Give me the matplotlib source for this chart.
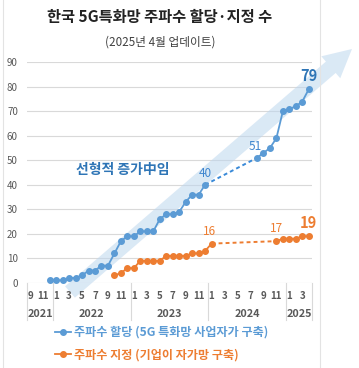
import numpy as np
import matplotlib
matplotlib.use('Agg')
import matplotlib.pyplot as plt
from matplotlib.patches import FancyArrow, Rectangle
from matplotlib.transforms import IdentityTransform, blended_transform_factory
from matplotlib.lines import Line2D

plt.rcParams['font.family'] = ['Noto Sans CJK KR', 'DejaVu Sans']

# Monthly categories, Sep 2021 .. Apr 2025
years = ['2021', '2022', '2023', '2024', '2025']
year_sizes = [4, 12, 12, 12, 4]
months = [9, 10, 11, 12] + list(range(1, 13)) * 3 + [1, 2, 3, 4]

# 주파수 할당 (blue) / 주파수 지정 (orange), None = no data for that month
allocated = [None, None, None, 1, 1, 1, 2, 2, 3, 5, 5, 7, 7, 12, 17, 19, 19,
             21, 21, 21, 26, 28, 28, 29, 33, 36, 36, 40,
             None, None, None, None, None, None, None,
             51, 53, 55, 59, 70, 71, 72, 74, 79]
designated = [None] * 13 + [3, 4, 6, 6, 9, 9, 9, 9, 11, 11, 11, 11, 12, 12, 13, 16] \
             + [None] * 9 + [17, 18, 18, 18, 19, 19]

label_alloc = '주파수 할당 (5G 특화망 사업자가 구축)'
label_desig = '주파수 지정 (기업이 자가망 구축)'

c_blue = '#5B9BD5'
c_blue_dark = '#2E75B6'
c_orange = '#ED7D31'
c_gray = '#595959'

W, H = 359, 368
fig = plt.figure(figsize=(W / 100, H / 100), dpi=100)
ax = fig.add_axes([27 / W, 1 - 282.8 / H, 285 / W, 220.5 / H])

x = np.arange(len(months))
ax.set_xlim(-0.5, len(months) - 0.5)
ax.set_ylim(0, 90)
ax.set_yticks(range(0, 91, 10))
ax.set_xticks([])
ax.tick_params(axis='y', length=0, pad=6.5, labelsize=7, labelcolor=c_gray)
ax.yaxis.grid(True, color='#D9D9D9', lw=0.8)
ax.set_axisbelow(True)
for s in ax.spines.values():
    s.set_visible(False)


def draw_series(vals, color, dash_color):
    y = np.array([np.nan if v is None else v for v in vals], float)
    ax.plot(x, y, color=color, lw=1.3, marker='o', ms=4, zorder=4)
    # dashed bridge over the missing months
    ok = ~np.isnan(y)
    for i in range(len(y) - 1):
        if ok[i] and not ok[i + 1]:
            j = i + 1
            while j < len(y) and not ok[j]:
                j += 1
            if j < len(y):
                ax.plot([x[i], x[j]], [y[i], y[j]], color=dash_color, lw=1.4,
                        dashes=(2, 1.6), zorder=3)
    return y


yb = draw_series(allocated, c_blue, '#3A8AD8')
yo = draw_series(designated, c_orange, c_orange)

# big trend arrow (pixel coords)
arrow = FancyArrow(70, H - 292, 282, 243, width=15, head_width=29, head_length=28,
                   length_includes_head=True, transform=IdentityTransform(),
                   facecolor='#BDD7EE', edgecolor='none', alpha=0.55, zorder=2,
                   clip_on=False)
ax.add_patch(arrow)

ax.text(14.35, 46, '선형적 증가中임', color=c_blue_dark, fontsize=10,
        fontweight='bold', ha='center', va='center', zorder=5)


def point_label(i, y, color, size=8.5, weight='normal', dx=0, dy=11.5):
    ax.annotate(f'{int(y[i])}', (x[i], y[i]), xytext=(dx * 0.72, dy * 0.72),
                textcoords='offset points', ha='center', va='center',
                color=color, fontsize=size, fontweight=weight, zorder=5)


point_label(27, yb, '#3F86CF', dx=0.5)
point_label(35, yb, '#3F86CF', dx=-1.4)
point_label(43, yb, c_blue_dark, size=10.5, weight='bold', dy=13.5)
point_label(28, yo, c_orange, dx=-2.5, dy=12)
point_label(38, yo, c_orange, dy=12.5)
point_label(43, yo, c_orange, size=10.5, weight='bold', dy=13.5)

# two-level category axis
trans = blended_transform_factory(ax.transData, ax.transAxes)
for i, m in enumerate(months):
    if m % 2 == 1:
        ax.text(i, -0.06, str(m), transform=trans, ha='center', va='center',
                fontsize=7, fontweight='bold', color=c_gray)
start = 0
edges = [-0.5]
for yr, n in zip(years, year_sizes):
    ax.text(start + (n - 1) / 2, -0.141, yr, transform=trans, ha='center',
            va='center', fontsize=7.8, fontweight='bold', color=c_gray)
    start += n
    edges.append(start - 0.5)
for e in edges:
    ax.plot([e, e], [0, -0.168], transform=trans, color='#D9D9D9', lw=0.8,
            clip_on=False)

# titles
fig.text(160 / W, 1 - 17 / H, '한국 5G특화망 주파수 할당·지정 수', ha='center',
         va='center', fontsize=11, fontweight='bold', color='#222222')
fig.text(160 / W, 1 - 42.5 / H, '(2025년 4월 업데이트)', ha='center',
         va='center', fontsize=8.4, color='#404040')

handles = [Line2D([], [], color=c_blue, marker='o', ms=4, lw=1.3),
           Line2D([], [], color=c_orange, marker='o', ms=4, lw=1.3)]
fig.legend(handles, [label_alloc, label_desig], loc='upper left',
           bbox_to_anchor=(55 / W, 1 - 326 / H), frameon=False, borderpad=0,
           borderaxespad=0, handlelength=1.3, handletextpad=0.25,
           labelspacing=0.75, prop={'size': 8.7, 'weight': 'bold'},
           labelcolor='linecolor')

# chart area outline
fig.add_artist(Rectangle((3, -5), 317, H + 10, transform=IdentityTransform(),
                         fill=False, edgecolor='#E3E3E3', lw=0.8))

fig.savefig('out.png', dpi=100)
